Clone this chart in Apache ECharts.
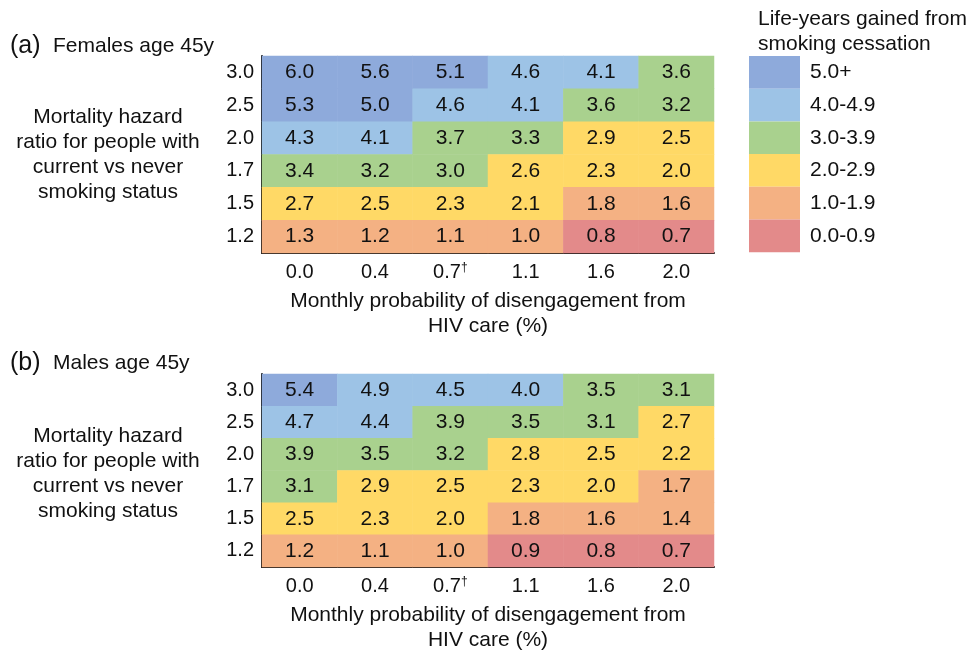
<!DOCTYPE html>
<html>
<head>
<meta charset="utf-8">
<script src="https://cdn.jsdelivr.net/npm/echarts@6/dist/echarts.min.js"></script>
<style>
  html, body { margin: 0; padding: 0; background: #fff; }
  #chart { width: 971px; height: 654px; }
</style>
</head>
<body>
<div id="chart"></div>
<script>
// Monthly probability of disengagement from HIV care (%)
const disengagement = ['0.0', '0.4', '0.7†', '1.1', '1.6', '2.0'];
// Mortality hazard ratio, listed top row first
const hazardRows = ['3.0', '2.5', '2.0', '1.7', '1.5', '1.2'];
// Axis order (bottom to top)
const hazardAxis = ['1.2', '1.5', '1.7', '2.0', '2.5', '3.0'];

// Life-years gained, females age 45y (rows follow hazardRows)
const femalesGain = [
  [6.0, 5.6, 5.1, 4.6, 4.1, 3.6],
  [5.3, 5.0, 4.6, 4.1, 3.6, 3.2],
  [4.3, 4.1, 3.7, 3.3, 2.9, 2.5],
  [3.4, 3.2, 3.0, 2.6, 2.3, 2.0],
  [2.7, 2.5, 2.3, 2.1, 1.8, 1.6],
  [1.3, 1.2, 1.1, 1.0, 0.8, 0.7]
];
// Life-years gained, males age 45y
const malesGain = [
  [5.4, 4.9, 4.5, 4.0, 3.5, 3.1],
  [4.7, 4.4, 3.9, 3.5, 3.1, 2.7],
  [3.9, 3.5, 3.2, 2.8, 2.5, 2.2],
  [3.1, 2.9, 2.5, 2.3, 2.0, 1.7],
  [2.5, 2.3, 2.0, 1.8, 1.6, 1.4],
  [1.2, 1.1, 1.0, 0.9, 0.8, 0.7]
];

// Legend bands
const bandLabels = ['5.0+', '4.0-4.9', '3.0-3.9', '2.0-2.9', '1.0-1.9', '0.0-0.9'];
const bandLower = [5, 4, 3, 2, 1, 0];
const bandUpper = [null, 5, 4, 3, 2, 1];
const bandColors = ['#8eaadb', '#9dc3e6', '#a9d18e', '#ffd966', '#f4b183', '#e38a8a'];

const FONT = '"Liberation Sans", Arial, Helvetica, sans-serif';
const TEXT = '#111';

function toCells(matrix) {
  const out = [];
  matrix.forEach((row, r) => {
    const y = hazardAxis.indexOf(hazardRows[r]);
    row.forEach((v, c) => out.push([c, y, v]));
  });
  return out;
}

const pieces = bandLabels.map((label, i) => {
  const p = { label: label, color: bandColors[i], gte: bandLower[i] };
  if (bandUpper[i] !== null) p.lt = bandUpper[i];
  return p;
});

const grids = [
  { left: 262, width: 452, top: 56, height: 197 },
  { left: 262, width: 452, top: 374, height: 198 }
];

function makeX(gridIndex) {
  return {
    type: 'category', gridIndex: gridIndex, data: disengagement,
    axisLine: { show: true, onZero: false, lineStyle: { color: '#111', width: 2 } },
    axisTick: { show: false },
    splitArea: { show: false },
    axisLabel: {
      interval: 0, margin: 9, fontSize: 20, color: TEXT, fontFamily: FONT,
      formatter: v => v.replace('†', '{sup|†}'),
      rich: { sup: { fontSize: 12, color: TEXT, fontFamily: FONT, padding: [0, 0, 8, 0] } }
    },
    name: 'Monthly probability of disengagement from\nHIV care (%)',
    nameLocation: 'middle', nameGap: 36,
    nameTextStyle: { fontSize: 21, lineHeight: 25, color: TEXT, fontFamily: FONT, verticalAlign: 'top' }
  };
}

function makeY(gridIndex) {
  return {
    type: 'category', gridIndex: gridIndex, data: hazardAxis,
    axisLine: { show: true, onZero: false, lineStyle: { color: '#111', width: 2 } },
    axisTick: { show: false },
    splitArea: { show: false },
    axisLabel: { interval: 0, margin: 8, fontSize: 20, color: TEXT, fontFamily: FONT }
  };
}

function makeSeries(idx, matrix) {
  return {
    type: 'heatmap', xAxisIndex: idx, yAxisIndex: idx,
    data: toCells(matrix),
    itemStyle: { borderWidth: 0 },
    label: {
      show: true, fontSize: 21, color: TEXT, fontFamily: FONT,
      formatter: p => p.value[2].toFixed(1)
    },
    emphasis: { disabled: true }
  };
}

const yTitle = 'Mortality hazard\nratio for people with\ncurrent vs never\nsmoking status';

function txt(x, y, text, size, align) {
  return {
    type: 'text', x: x, y: y, silent: true,
    style: {
      text: text, fill: TEXT, fontSize: size, fontFamily: FONT,
      align: align, verticalAlign: 'middle', lineHeight: 25
    }
  };
}

const chart = echarts.init(document.getElementById('chart'), null, { renderer: 'canvas' });
chart.setOption({
  animation: false,
  backgroundColor: '#fff',
  grid: grids,
  xAxis: [makeX(0), makeX(1)],
  yAxis: [makeY(0), makeY(1)],
  visualMap: {
    type: 'piecewise', seriesIndex: [0, 1], dimension: 2,
    pieces: pieces, orient: 'vertical', inverse: false, align: 'left',
    left: 749, top: 56,
    itemWidth: 51, itemHeight: 32.7, itemGap: 0, textGap: 10,
    itemSymbol: 'rect', selectedMode: false, hoverLink: false,
    padding: 0,
    textStyle: { fontSize: 21, color: TEXT, fontFamily: FONT }
  },
  graphic: [
    txt(10, 46, '(a)', 25, 'left'),
    txt(53, 46, 'Females age 45y', 21, 'left'),
    txt(10, 363, '(b)', 25, 'left'),
    txt(53, 363, 'Males age 45y', 21, 'left'),
    txt(108, 155, yTitle, 21, 'center'),
    txt(108, 474, yTitle, 21, 'center'),
    txt(758, 32, 'Life-years gained from\nsmoking cessation', 21, 'left')
  ],
  series: [makeSeries(0, femalesGain), makeSeries(1, malesGain)]
});
</script>
</body>
</html>
